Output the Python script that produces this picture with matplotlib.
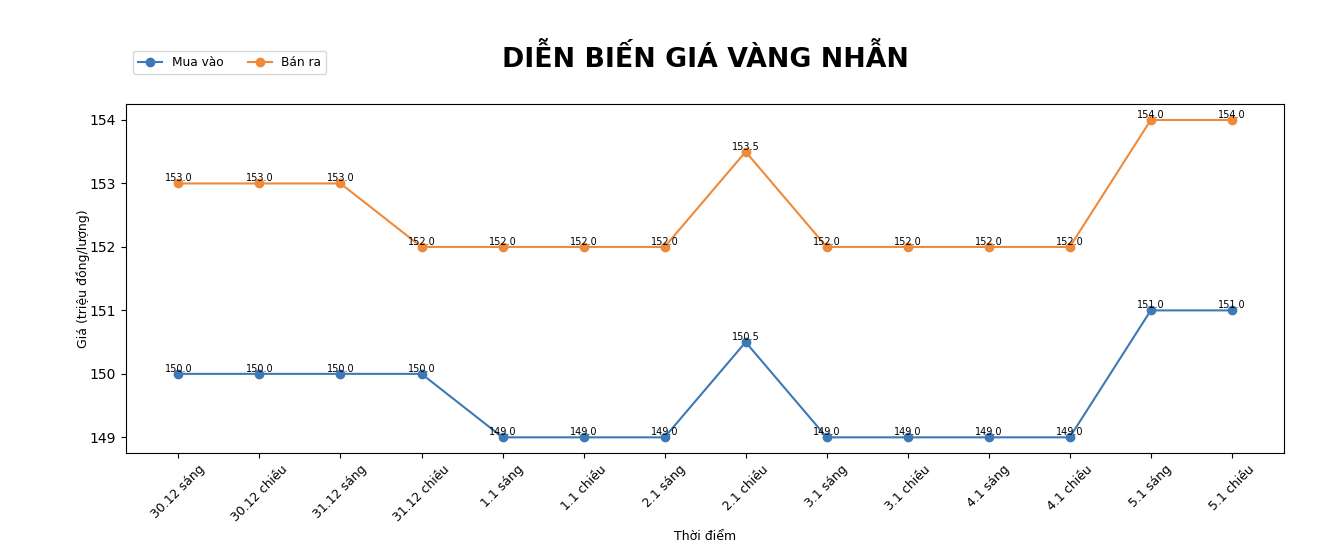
import matplotlib
matplotlib.use("Agg")
import matplotlib.pyplot as plt

thoi_diem = ["30.12 sáng", "30.12 chiều", "31.12 sáng", "31.12 chiều",
             "1.1 sáng", "1.1 chiều", "2.1 sáng", "2.1 chiều",
             "3.1 sáng", "3.1 chiều", "4.1 sáng", "4.1 chiều",
             "5.1 sáng", "5.1 chiều"]
mua_vao = [150.0, 150.0, 150.0, 150.0, 149.0, 149.0, 149.0, 150.5,
           149.0, 149.0, 149.0, 149.0, 151.0, 151.0]
ban_ra = [153.0, 153.0, 153.0, 152.0, 152.0, 152.0, 152.0, 153.5,
          152.0, 152.0, 152.0, 152.0, 154.0, 154.0]

fig = plt.figure(figsize=(13.38, 5.48), dpi=100)
ax = fig.add_axes([0.094, 0.173, 0.866, 0.637])

x = range(len(thoi_diem))
ax.plot(x, mua_vao, marker="o", color="#3d79b5", label="Mua vào")
ax.plot(x, ban_ra, marker="o", color="#ee8a3a", label="Bán ra")

for i, v in enumerate(mua_vao):
    ax.text(i, v, f"{v:.1f}", ha="center", va="bottom", fontsize=7)
for i, v in enumerate(ban_ra):
    ax.text(i, v, f"{v:.1f}", ha="center", va="bottom", fontsize=7)

ax.set_xticks(list(x))
ax.set_xticklabels(thoi_diem, rotation=45, fontsize=9)
ax.set_xlabel("Thời điểm", fontsize=9)
ax.set_ylabel("Giá (triệu đồng/lượng)", fontsize=9, labelpad=0)
ax.set_title("DIỄN BIẾN GIÁ VÀNG NHẪN", fontsize=19.3, fontweight="bold", pad=27)

fig.legend(loc="upper left", bbox_to_anchor=(0.095, 0.918), ncol=2, fontsize=8.7)

fig.savefig("out.png", dpi=100)
